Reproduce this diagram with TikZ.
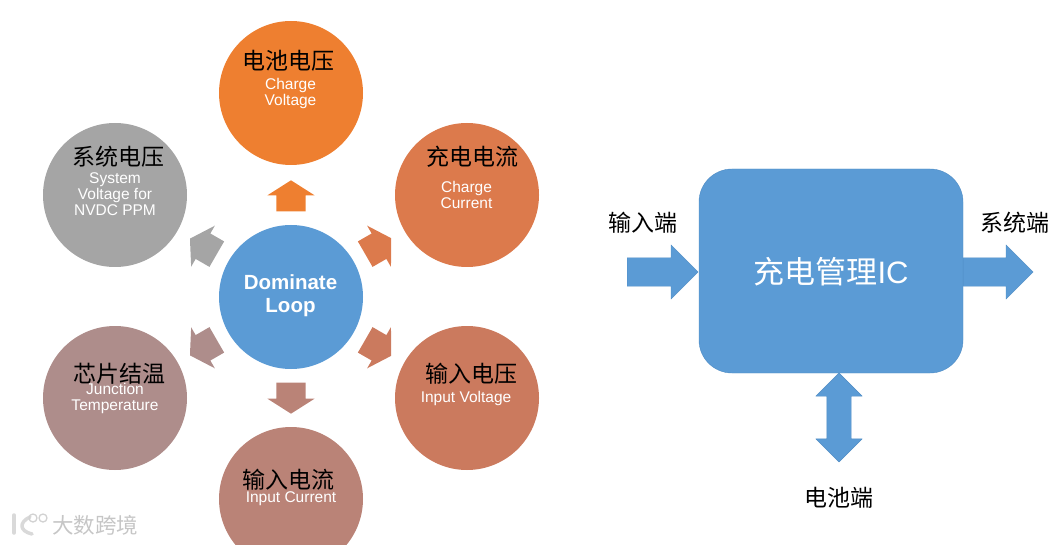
\documentclass[tikz,border=0pt]{standalone}
\usepackage{fontspec}
\setmainfont{Liberation Sans}
\newfontfamily\cjk{Noto Sans CJK SC}
\usetikzlibrary{shapes.arrows}
\definecolor{loopblue}{HTML}{5B9BD5}
\definecolor{edgeblue}{HTML}{4F8CC4}
\definecolor{cvolt}{HTML}{EE7F30}
\definecolor{ccurr}{HTML}{DC7A4C}
\definecolor{ivolt}{HTML}{CB7A5E}
\definecolor{icurr}{HTML}{BA8377}
\definecolor{jtemp}{HTML}{AE8D8B}
\definecolor{svolt}{HTML}{A5A5A5}
\tikzset{
	x=1pt, y=1pt,
	ball/.style={circle, minimum size=144pt, inner sep=0pt},
	title/.style={font=\cjk\fontsize{23}{23}\selectfont, text=black, inner sep=0pt},
	sub/.style={font=\fontsize{15.5}{16}\selectfont, text=white, align=center, inner sep=0pt},
	port/.style={font=\cjk\fontsize{23}{23}\selectfont, text=black, inner sep=0pt},
	loopar/.style={single arrow, draw=none, anchor=tail, inner xsep=0pt, inner ysep=14.5pt, minimum height=31pt, minimum width=47pt,
		single arrow head extend=9pt, single arrow tip angle=115},
	portar/.style={single arrow, draw=edgeblue, fill=loopblue, line width=0.4pt, inner xsep=0pt, inner ysep=14pt, minimum width=54pt,
		single arrow head extend=13pt, single arrow tip angle=90}
}
\begin{document}
\begin{tikzpicture}[line join=round]
	\useasboundingbox (0,0) rectangle (1059,544);
	% left part
	\node[ball, fill=loopblue] (loop) at (291,247) {};
	\node[font=\bfseries\fontsize{20.5}{23}\selectfont, text=white, align=center, inner sep=0pt] (looptext) at (290.5,248.5) {Dominate\\Loop};
	\node[ball, fill=cvolt] (chargev) at (291,451) {};
	\node[ball, fill=ccurr] (chargei) at (467,349) {};
	\node[ball, fill=ivolt] (inputv) at (467,146) {};
	\node[ball, fill=icurr] (inputi) at (291,45) {};
	\node[ball, fill=jtemp] (junction) at (115,146) {};
	\node[ball, fill=svolt] (system) at (115,349) {};
	% arrows round the loop
	\begin{scope}
		\clip (190,0) rectangle (391,544);
		\foreach \angle/\col/\nam in {90/cvolt/a, 30/ccurr/b, -30/ivolt/c, -90/icurr/d, -150/jtemp/e, 150/svolt/f} {
			\node[loopar, fill=\col, rotate=\angle] (arrow\nam) at ([shift={(\angle:85.5)}]291,247) {};
		}
	\end{scope}
	% texts
	\node[title] (t1) at (288,483) {电池电压};
	\node[sub] (s1) at (290.5,451) {Charge\\Voltage};
	\node[title] (t2) at (472,387) {充电电流};
	\node[sub] (s2) at (466.5,349.5) {Charge\\Current};
	\node[title] (t3) at (471,170) {输入电压};
	\node[sub] (s3) at (466,146) {Input Voltage};
	\node[title] (t4) at (288,64) {输入电流};
	\node[sub] (s4) at (291,45) {Input Current};
	\node[title] (t5) at (119,170) {芯片结温};
	\node[sub] (s5) at (115,146) {Junction\\Temperature};
	\node[title] (t6) at (118,387) {系统电压};
	\node[sub] (s6) at (115,349.5) {System\\Voltage for\\NVDC PPM};
	% watermark
	\node[font=\cjk\fontsize{21.5}{21.5}\selectfont, text=gray!45, inner sep=0pt] (mark) at (95,19) {大数跨境};
	\draw[gray!30, line width=3.5pt, line cap=round] (14,29) -- (14,11);
	\draw[gray!30, line width=3.5pt, line cap=round] (30,27) .. controls (19,22) and (19,13) .. (32,10);
	\draw[gray!35, line width=1.3pt] (33,26) circle (4pt) (43,26) circle (4pt);
	% right part
	\node[draw=edgeblue, fill=loopblue, rounded corners=33pt, minimum width=264pt, minimum height=204pt, inner sep=0pt] (ic) at (831,273) {};
	\node[font=\cjk\fontsize{31}{31}\selectfont, text=white, inner sep=0pt] (ictext) at (831,272) {充电管理\fontspec{Liberation Sans}IC};
	\node[portar, anchor=tail, minimum height=71pt] (inarrow) at (627,272) {};
	\node[portar, anchor=tail, minimum height=70pt] (outarrow) at (963,272) {};
	\node[double arrow, draw=edgeblue, fill=loopblue, line width=0.4pt, inner xsep=0pt, inner ysep=12pt, rotate=90, minimum height=89pt, minimum width=46pt,
		double arrow head extend=11pt, double arrow tip angle=90] (batarrow) at (839,126.5) {};
	\node[port] (inlabel) at (643,321) {输入端};
	\node[port] (outlabel) at (1015,321) {系统端};
	\node[port] (batlabel) at (839,46) {电池端};
\end{tikzpicture}
\end{document}
